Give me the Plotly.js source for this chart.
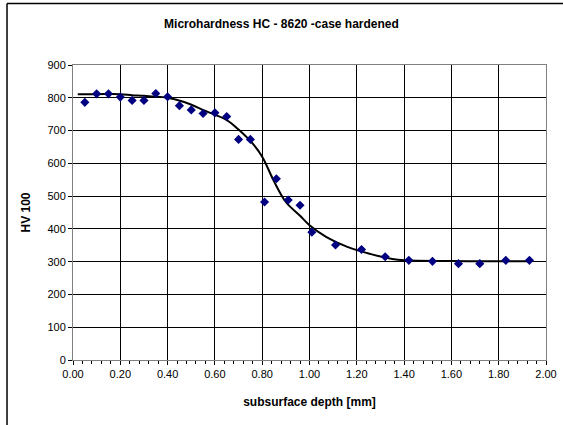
<!DOCTYPE html>
<html>
<head>
<meta charset="utf-8">
<script src="https://cdn.plot.ly/plotly-3.0.1.min.js"></script>
<style>html,body{margin:0;padding:0;background:#fff;}#chart{width:563px;height:425px;}</style>
</head>
<body>
<div id="chart"></div>
<script>
// Measured data points
const depth = [0.05,0.10,0.15,0.20,0.25,0.30,0.35,0.40,0.45,0.50,0.55,0.60,0.65,0.70,0.75,0.81,0.86,0.91,0.96,1.01,1.11,1.22,1.32,1.42,1.52,1.63,1.72,1.83,1.93];
const hardness = [786,812,812,802,792,792,813,803,776,763,752,754,743,673,673,482,553,488,472,390,351,337,315,304,301,294,294,304,304];
// Fitted curve
const curveX = [0.02,0.10,0.20,0.25,0.30,0.40,0.47,0.56,0.65,0.70,0.76,0.80,0.85,0.90,0.96,1.00,1.07,1.16,1.26,1.35,1.40,1.60,1.80,1.93];
const curveY = [811,811,811,808,806,800,787,760,732,703,660,620,545,482,440,411,376,345,323,308,304,302,301,301];

const titleText = 'Microhardness HC - 8620 -case hardened';
const xTitle = 'subsurface depth [mm]';
const yTitle = 'HV 100';

const font = 'Liberation Sans, Arial, sans-serif';

const traces = [
  {x: curveX, y: curveY, mode: 'lines', type: 'scatter',
   line: {color: '#000000', width: 2, shape: 'spline', smoothing: 1}, hoverinfo: 'skip'},
  {x: depth, y: hardness, mode: 'markers', type: 'scatter',
   marker: {symbol: 'diamond', color: '#000080', size: 7}}
];

const layout = {
  width: 563, height: 425,
  margin: {l: 73, r: 17, t: 65, b: 65},
  paper_bgcolor: '#ffffff', plot_bgcolor: '#ffffff',
  showlegend: false,
  font: {family: font, size: 11, color: '#000'},
  title: {text: '<b>' + titleText + '</b>', x: 0.5, xanchor: 'center', y: 0.945, yanchor: 'middle',
          font: {family: font, size: 12, color: '#000'}},
  xaxis: {
    range: [0, 2], dtick: 0.2, tick0: 0, tickformat: '.2f',
    showgrid: true, gridcolor: '#000000', gridwidth: 1,
    showline: true, linecolor: '#808080', linewidth: 1, mirror: true,
    ticks: 'outside', ticklen: 4, tickcolor: '#000', tickwidth: 1,
    minor: {dtick: 0.04, ticks: 'outside', ticklen: 3, tickcolor: '#000', showgrid: false},
    zeroline: false,
    tickfont: {family: font, size: 11, color: '#000'},
    title: {text: '<b>' + xTitle + '</b>', standoff: 18, font: {family: font, size: 12, color: '#000'}}
  },
  yaxis: {
    range: [0, 900], dtick: 100, tick0: 0,
    showgrid: true, gridcolor: '#000000', gridwidth: 1,
    showline: true, linecolor: '#808080', linewidth: 1, mirror: true,
    ticks: 'outside', ticklen: 4, tickcolor: '#000', tickwidth: 1,
    zeroline: false,
    tickfont: {family: font, size: 11, color: '#000'},
    title: {text: '<b>' + yTitle + '</b>', standoff: 14, font: {family: font, size: 12, color: '#000'}}
  },
  shapes: [
    {type: 'line', xref: 'paper', yref: 'paper', x0: -0.1395, x1: 1.2, y0: 1.2085, y1: 1.2085,
     line: {color: '#000', width: 1.5}},
    {type: 'line', xref: 'paper', yref: 'paper', x0: -0.1395, x1: -0.1395, y0: -0.5, y1: 1.2085,
     line: {color: '#000', width: 1.5}}
  ]
};

Plotly.newPlot('chart', traces, layout, {displayModeBar: false, staticPlot: true});
</script>
</body>
</html>
